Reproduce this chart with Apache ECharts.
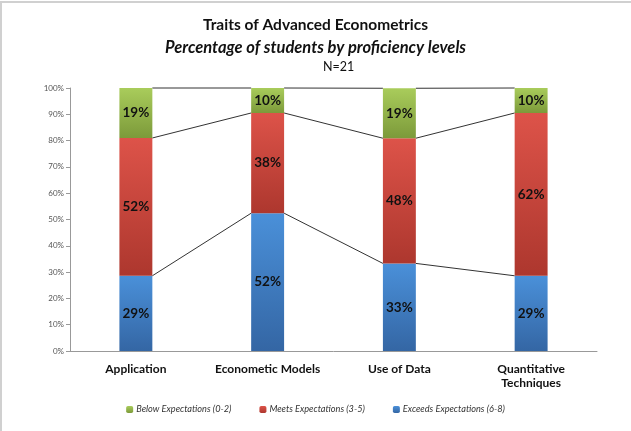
<!DOCTYPE html>
<html>
<head>
<meta charset="utf-8">
<script src="https://cdn.jsdelivr.net/npm/echarts@6/dist/echarts.min.js"></script>
<style>html,body{margin:0;padding:0;background:#fff}#c{width:631px;height:431px}</style>
</head>
<body>
<div id="c"></div>
<script>
var categories = ['Application', 'Econometic Models', 'Use of Data', 'Quantitative\nTechniques'];
var exceeds = [28.6, 52.4, 33.3, 28.6];
var meets = [52.4, 38.1, 47.6, 61.9];
var below = [19.0, 9.5, 19.0, 9.5];
var yTicks = [0, 10, 20, 30, 40, 50, 60, 70, 80, 90, 100];

var FONT = 'Lato';
var BAR_FRAC = 0.25;

function grad(top, bottom) {
  return new echarts.graphic.LinearGradient(0, 0, 0, 1, [
    {offset: 0, color: top}, {offset: 1, color: bottom}
  ]);
}
var lbl = {show: true, position: 'inside', fontFamily: FONT, fontWeight: 'bold', fontSize: 13.5, color: '#111',
  formatter: function (p) { return Math.round(p.value) + '%'; }};

var lvl1 = exceeds.slice();
var lvl2 = exceeds.map(function (v, i) { return v + meets[i]; });
var lvl3 = lvl2.map(function (v, i) { return v + below[i]; });

var chart = echarts.init(document.getElementById('c'), null, {renderer: 'canvas'});
chart.setOption({
  animation: false,
  backgroundColor: '#fff',
  graphic: [
    {type: 'line', shape: {x1: 0, y1: 2, x2: 631, y2: 2}, style: {stroke: '#d0d0d0', lineWidth: 2}},
    {type: 'line', shape: {x1: 1, y1: 2, x2: 1, y2: 431}, style: {stroke: '#d0d0d0', lineWidth: 2}}
  ],
  title: [
    {text: 'Traits of Advanced Econometrics', left: 'center', top: 12,
      textStyle: {fontFamily: FONT, fontWeight: 'bold', fontSize: 15.5, color: '#111'}},
    {text: 'Percentage of students by proficiency levels', left: 'center', top: 34,
      textStyle: {fontFamily: FONT, fontWeight: 'bold', fontStyle: 'italic', fontSize: 16.5, color: '#111'}},
    {text: 'N=21', left: 318, top: 55,
      textStyle: {fontFamily: FONT, fontWeight: 'normal', fontSize: 12.5, color: '#111'}}
  ],
  legend: {
    bottom: 12, left: 'center', itemWidth: 7, itemHeight: 7, itemGap: 28,
    data: ['Below Expectations (0-2)', 'Meets Expectations (3-5)', 'Exceeds Expectations (6-8)'],
    textStyle: {fontFamily: FONT, fontStyle: 'italic', fontSize: 9.2, color: '#333', padding: [0, 0, 0, -2]}
  },
  grid: {left: 70, right: 34, top: 88, bottom: 80},
  xAxis: {
    type: 'category', data: categories,
    axisLine: {lineStyle: {color: '#999'}}, axisTick: {show: false},
    axisLabel: {interval: 0, fontFamily: FONT, fontWeight: 'bold', fontSize: 12, color: '#111', margin: 11, lineHeight: 14}
  },
  yAxis: {
    type: 'value', min: 0, max: 100, interval: 10,
    splitLine: {show: false},
    axisLine: {show: true, lineStyle: {color: '#999'}},
    axisTick: {show: true, length: 4, lineStyle: {color: '#999'}},
    axisLabel: {fontFamily: FONT, fontSize: 8, color: '#555', margin: 6,
      formatter: function (v) { return yTicks.indexOf(v) >= 0 ? v + '%' : ''; }}
  },
  series: [
    {name: 'Exceeds Expectations (6-8)', type: 'bar', stack: 's', barWidth: '25%', data: exceeds,
      itemStyle: {color: grad('#4a90d9', '#3466a4')}, label: lbl},
    {name: 'Meets Expectations (3-5)', type: 'bar', stack: 's', barWidth: '25%', data: meets,
      itemStyle: {color: grad('#dd5349', '#ad372e')}, label: lbl},
    {name: 'Below Expectations (0-2)', type: 'bar', stack: 's', barWidth: '25%', data: below,
      itemStyle: {color: grad('#a9cc5b', '#7c9a3a')}, label: lbl},
    {
      type: 'custom', silent: true, z: 1,
      data: categories.slice(0, -1).map(function (c, i) { return [i]; }),
      renderItem: function (params, api) {
        var i = api.value(0);
        var bw = api.size([1, 0])[0] * BAR_FRAC;
        var children = [];
        [lvl1, lvl2, lvl3].forEach(function (lv) {
          var a = api.coord([i, lv[i]]);
          var b = api.coord([i + 1, lv[i + 1]]);
          children.push({type: 'line', shape: {x1: a[0] + bw / 2, y1: a[1], x2: b[0] - bw / 2, y2: b[1]},
            style: {stroke: '#333', lineWidth: 1}});
        });
        return {type: 'group', children: children};
      }
    }
  ]
});
</script>
</body>
</html>
